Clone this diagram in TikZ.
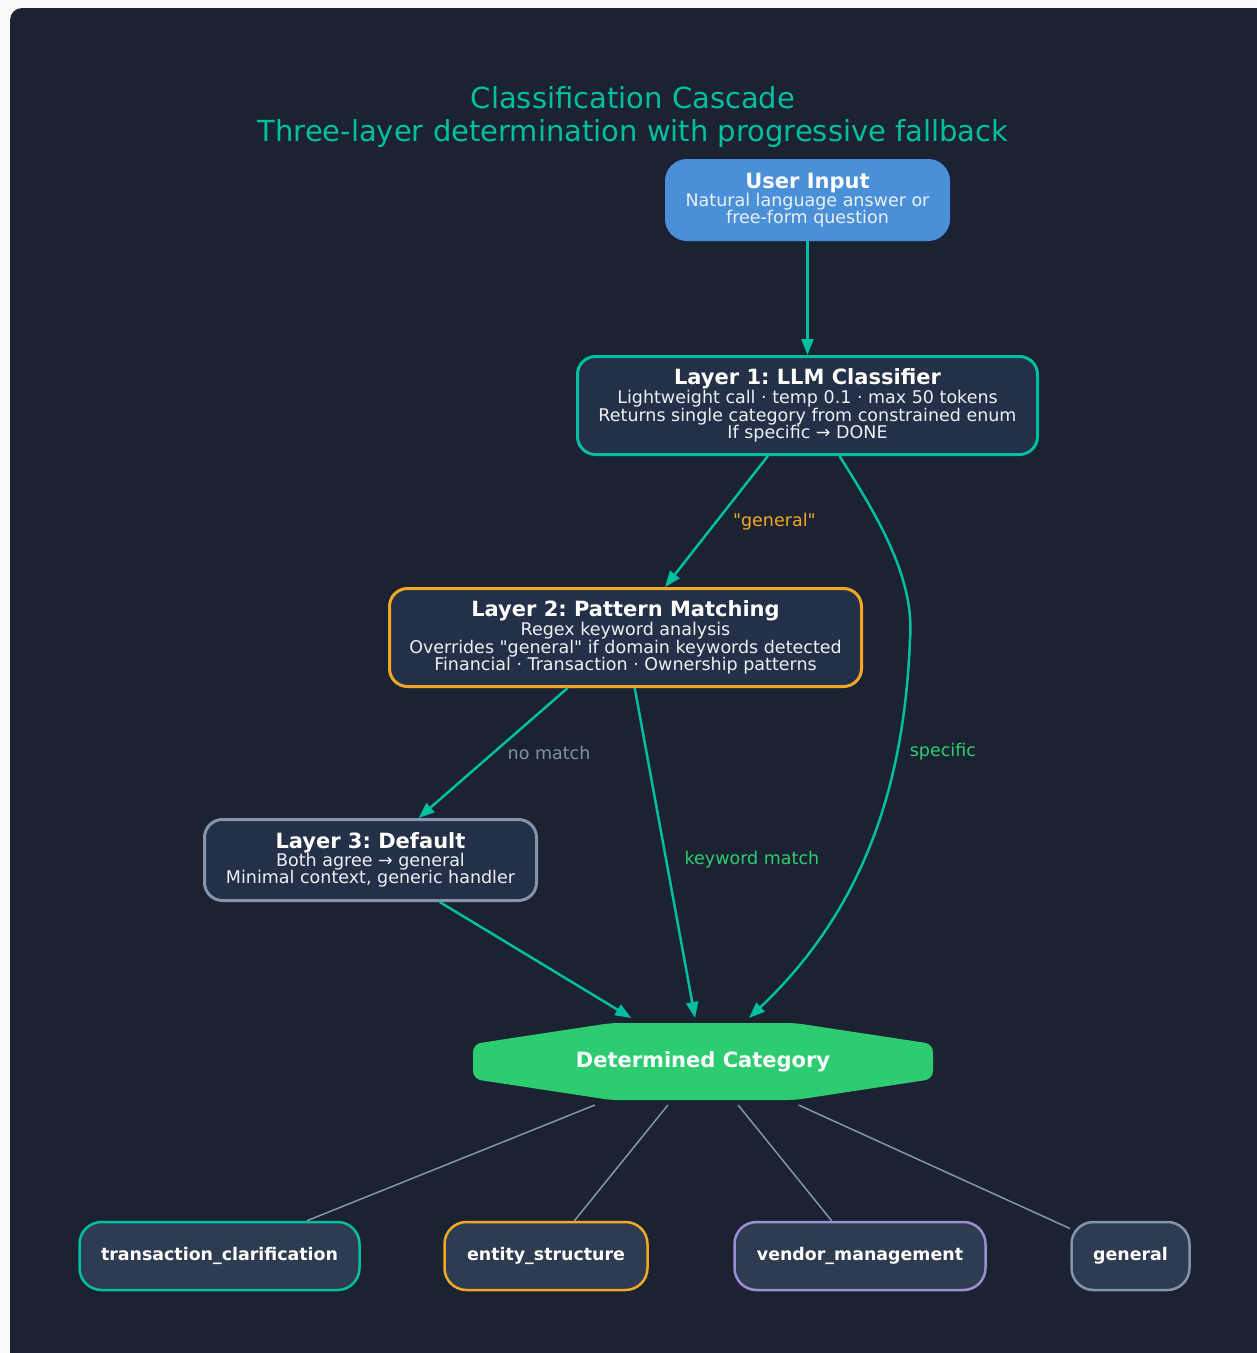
\documentclass[tikz,border=0pt]{standalone}
\usepackage{fontspec}
\setmainfont{DejaVu Sans}[Ligatures=TeXOff]
\usepackage{tikz}
\usetikzlibrary{arrows.meta}
\definecolor{background-white}{RGB}{250, 250, 250}
\definecolor{background-navy}{RGB}{27, 35, 51}
\definecolor{box-navy}{RGB}{35, 48, 71}
\definecolor{leaf-navy}{RGB}{46, 60, 82}
\definecolor{flow-teal}{RGB}{0, 191, 160}
\definecolor{layer-orange}{RGB}{245, 166, 35}
\definecolor{layer-gray}{RGB}{133, 148, 168}
\definecolor{leaf-purple}{RGB}{160, 140, 210}
\definecolor{input-blue}{RGB}{74, 144, 217}
\definecolor{category-green}{RGB}{46, 204, 113}
\definecolor{text-white}{RGB}{236, 240, 245}
\definecolor{label-gray}{RGB}{130, 145, 165}
\frenchspacing
\newcommand{\boxtitle}[1]{{\fontsize{21}{21}\selectfont\bfseries\color{white}#1}}
\tikzset{
   layerbox/.style={draw, line width=3pt, fill=box-navy, rounded corners=18pt, align=center, text=text-white, font=\fontsize{17.5}{17.5}\selectfont\frenchspacing},
   leafbox/.style={draw, line width=2.5pt, fill=leaf-navy, rounded corners=22pt, text=white, minimum height=68pt, font=\fontsize{17.4}{17.4}\selectfont\bfseries},
   flow/.style={draw=flow-teal, line width=2.5pt, -{Triangle[length=16pt,width=12pt]}},
   fan/.style={draw=layer-gray, line width=1.5pt},
   edgelabel/.style={font=\fontsize{17.5}{17.5}\selectfont}
}
\begin{document}
\begin{tikzpicture}[x=1pt, y=-1pt]
   \fill[use as bounding box,background-white] (0,0) rectangle (1257,1353);
   \fill[background-navy, rounded corners=12pt] (10,8) rectangle (1275,1375);
   % title
   \node[text=flow-teal, align=center, font=\fontsize{29}{33}\selectfont] (title) at (633,116.5) {Classification Cascade\\Three-layer determination with progressive fallback};
   % layers
   \node[fill=input-blue, rounded corners=22pt, align=center, text=text-white, font=\fontsize{17.5}{17}\selectfont, minimum width=285pt, minimum height=82pt] (input) at (807.5,200) {\boxtitle{User Input}\\[-1pt]Natural language answer or\\free-form question};
   \node[layerbox, draw=flow-teal, minimum width=460pt, minimum height=98pt] (layer1) at (807.5,405.5) {\boxtitle{Layer 1: LLM Classifier}\\[0pt]Lightweight call · temp 0.1 · max 50 tokens\\Returns single category from constrained enum\\If specific → DONE};
   \node[layerbox, draw=layer-orange, minimum width=472pt, minimum height=98pt] (layer2) at (625.5,637.5) {\boxtitle{Layer 2: Pattern Matching}\\[0pt]Regex keyword analysis\\Overrides "general" if domain keywords detected\\Financial · Transaction · Ownership patterns};
   \node[layerbox, draw=layer-gray, minimum width=332pt, minimum height=81pt] (layer3) at (370.5,860) {\boxtitle{Layer 3: Default}\\[-1pt]Both agree → general\\Minimal context, generic handler};
   % result
   \fill[category-green, rounded corners=8pt] (611,1023) -- (795,1023) -- (933,1044) -- (933,1079) -- (795,1100) -- (611,1100) -- (473,1079) -- (473,1044) -- cycle;
   \node[text=white, font=\fontsize{21}{21}\selectfont\bfseries, minimum width=460pt, minimum height=77pt, outer sep=5pt] (cat) at (703,1061.5) {Determined Category};
   % categories
   \node[leafbox, draw=flow-teal, minimum width=280pt] (leaf-transaction) at (219.5,1256) {transaction\_clarification};
   \node[leafbox, draw=layer-orange, minimum width=203pt] (leaf-entity) at (546,1256) {entity\_structure};
   \node[leafbox, draw=leaf-purple, minimum width=251pt] (leaf-vendor) at (860,1256) {vendor\_management};
   \node[leafbox, draw=layer-gray, minimum width=118pt] (leaf-general) at (1130.5,1256) {general};
   % flow
   \draw[flow] (input) -- (layer1);
   \draw[flow] (layer1) -- node[edgelabel, text=layer-orange, right=12pt] {"general"} (layer2);
   \draw[flow] (layer2) -- node[edgelabel, text=label-gray, right=10pt] {no match} (layer3);
   \draw[flow] (layer2) -- node[edgelabel, text=category-green, pos=.52, right=14pt] {keyword match} (cat);
   \draw[flow] (layer3) -- (cat);
   \draw[flow] (layer1) .. controls (880,520) and (915,580) .. (910,640) .. controls (905,760) and (877,897) .. (cat) node[edgelabel, text=category-green, pos=.3, right=8pt] {specific};
   \draw[fan] (cat) -- (leaf-transaction);
   \draw[fan] (cat) -- (leaf-entity);
   \draw[fan] (cat) -- (leaf-vendor);
   \draw[fan] (cat) -- (leaf-general);
\end{tikzpicture}
\end{document}
